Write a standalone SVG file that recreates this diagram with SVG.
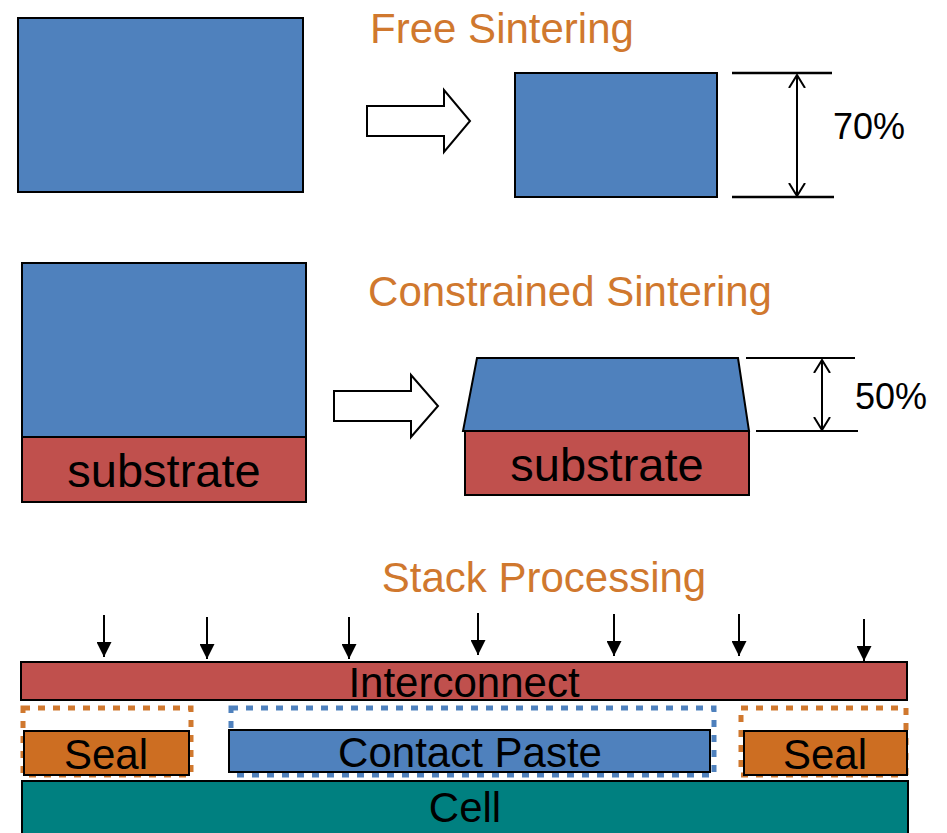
<svg xmlns="http://www.w3.org/2000/svg" width="947" height="833" viewBox="0 0 947 833">
<defs>
<style>
.t{font-family:"Liberation Sans",Arial,sans-serif;}
.title{font-size:42px;fill:#D0782E;}
.lbl{font-size:42px;fill:#000;}
.blue{fill:#4F81BD;stroke:#000;stroke-width:2;}
.red{fill:#C0504D;stroke:#000;stroke-width:2;}
.seal{fill:#CD6E22;stroke:#000;stroke-width:2;}
.cell{fill:#008080;stroke:#000;stroke-width:2;}
.hollow{fill:#fff;stroke:#000;stroke-width:2;}
.dim{stroke:#000;stroke-width:2.5;fill:none;}
.dimv{stroke:#000;stroke-width:2;fill:none;}
.dotO{fill:none;stroke:#D0782E;stroke-width:5;stroke-dasharray:7 8;}
.dotB{fill:none;stroke:#4F81BD;stroke-width:5;stroke-dasharray:7 8;}
.press{stroke:#000;stroke-width:2;}
</style>
<marker id="ah" viewBox="0 0 15 15" refX="15" refY="7.5" markerWidth="15" markerHeight="15" markerUnits="userSpaceOnUse" orient="auto"><path d="M0,0 L15,7.5 L0,15 z" fill="#000"/></marker>
<marker id="open" viewBox="0 0 14 18" refX="13" refY="9" markerWidth="14" markerHeight="18" markerUnits="userSpaceOnUse" orient="auto-start-reverse"><path d="M0,1 L13,9 L0,17" fill="none" stroke="#000" stroke-width="2"/></marker>
</defs>

<!-- Free sintering -->
<g id="free-title"><text class="t title" x="502" y="43" text-anchor="middle">Free Sintering</text></g>
<g id="free-before"><rect class="blue" x="18" y="18" width="285" height="174"/></g>
<g id="free-arrow"><polygon class="hollow" points="367,106 444,106 444,90 470,121 444,152 444,136 367,136"/></g>
<g id="free-after"><rect class="blue" x="515" y="73" width="202" height="124"/></g>
<g id="free-dim">
<line class="dim" x1="732" y1="73" x2="832" y2="73"/>
<line class="dim" x1="732" y1="197" x2="834" y2="197"/>
<line class="dimv" x1="797" y1="75" x2="797" y2="196" marker-start="url(#open)" marker-end="url(#open)"/>
<text class="t" x="833" y="139" font-size="36">70%</text>
</g>

<!-- Constrained sintering -->
<g id="con-title"><text class="t title" x="570" y="306" text-anchor="middle">Constrained Sintering</text></g>
<g id="con-before">
<rect class="blue" x="22" y="263" width="284" height="174"/>
<rect class="red" x="22" y="437" width="284" height="65"/>
<text class="t" x="164" y="487" font-size="47" text-anchor="middle">substrate</text>
</g>
<g id="con-arrow"><polygon class="hollow" points="334,391 411,391 411,375 438,406 411,437 411,421 334,421"/></g>
<g id="con-after">
<rect class="red" x="465" y="431" width="284" height="64"/>
<polygon class="blue" points="477,358 738,358 749,431 463,431"/>
<text class="t" x="607" y="481" font-size="47" text-anchor="middle">substrate</text>
</g>
<g id="con-dim">
<line class="dimv" x1="746" y1="358" x2="855" y2="358"/>
<line class="dimv" x1="756" y1="431" x2="858" y2="431"/>
<line class="dimv" x1="822" y1="360" x2="822" y2="430" marker-start="url(#open)" marker-end="url(#open)"/>
<text class="t" x="855" y="409" font-size="36">50%</text>
</g>

<!-- Stack processing -->
<g id="stack-title"><text class="t title" x="544" y="592" text-anchor="middle">Stack Processing</text></g>
<g id="connectors">
<line class="press" x1="104" y1="615" x2="104" y2="657" marker-end="url(#ah)"/>
<line class="press" x1="207" y1="617" x2="207" y2="659" marker-end="url(#ah)"/>
<line class="press" x1="349" y1="617" x2="349" y2="659" marker-end="url(#ah)"/>
<line class="press" x1="478" y1="613" x2="478" y2="655" marker-end="url(#ah)"/>
<line class="press" x1="614" y1="614" x2="614" y2="656" marker-end="url(#ah)"/>
<line class="press" x1="739" y1="614" x2="739" y2="656" marker-end="url(#ah)"/>
<line class="press" x1="864" y1="619" x2="864" y2="661" marker-end="url(#ah)"/>
</g>
<g id="interconnect">
<rect class="red" x="21" y="662" width="886" height="38"/>
<text class="t lbl" x="464" y="697" text-anchor="middle">Interconnect</text>
</g>
<g id="seal-left">
<rect class="dotO" x="23" y="708" width="168" height="67"/>
<rect class="seal" x="24" y="731" width="165" height="44"/>
<text class="t lbl" x="106" y="769" text-anchor="middle">Seal</text>
</g>
<g id="contact-paste">
<rect class="dotB" x="231" y="708" width="483" height="67"/>
<rect class="blue" x="229" y="730" width="481" height="42"/>
<text class="t lbl" x="470" y="767" text-anchor="middle">Contact Paste</text>
</g>
<g id="seal-right">
<rect class="dotO" x="741" y="708" width="165" height="67"/>
<rect class="seal" x="744" y="731" width="163" height="44"/>
<text class="t lbl" x="825" y="769" text-anchor="middle">Seal</text>
</g>
<g id="cell">
<rect class="cell" x="22" y="781" width="886" height="60"/>
<text class="t lbl" x="465" y="822" text-anchor="middle">Cell</text>
</g>
</svg>
